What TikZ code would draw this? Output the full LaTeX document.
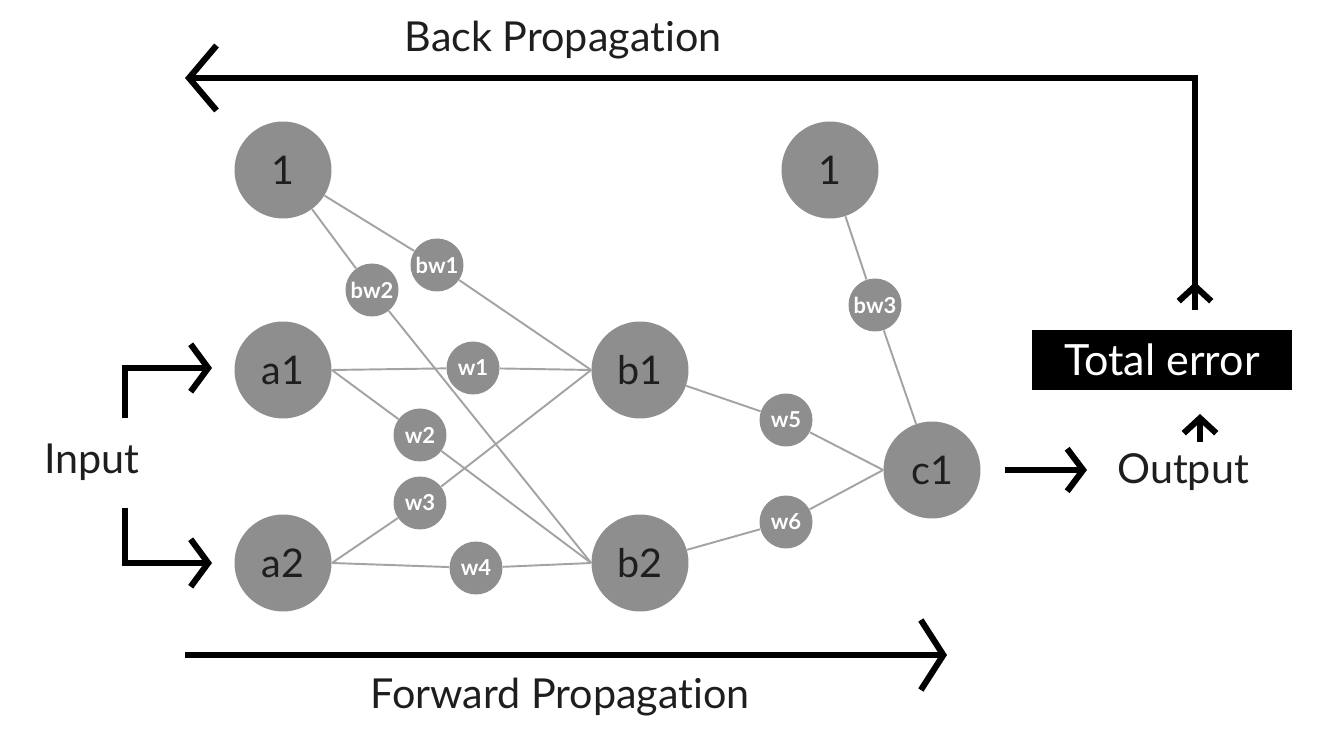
\documentclass[tikz,border=0pt]{standalone}
\usepackage{fontspec}
\setmainfont{Lato}[Ligatures=NoCommon]
\usetikzlibrary{arrows.meta,backgrounds}
\definecolor{nodegray}{HTML}{8E8E8E}
\definecolor{edgegray}{HTML}{A3A3A3}
\definecolor{textdark}{HTML}{1E1E1E}
\begin{document}
\begin{tikzpicture}[x=0.02cm,y=-0.02cm,
  neuron/.style={circle,fill=nodegray,minimum size=1.94cm,inner sep=0pt,font=\fontsize{22.5}{22.5}\selectfont,text=textdark},
  weight/.style={circle,fill=nodegray,minimum size=1.06cm,inner sep=0pt,font=\bfseries\fontsize{12.5}{12.5}\selectfont,text=white},
  edge/.style={draw=edgegray,line width=1.1pt},
  bigarrow/.style={line width=3.5pt,draw=black},
  lbl/.style={font=\fontsize{23.5}{23.5}\selectfont,text=textdark,inner sep=0pt}]
\useasboundingbox (0,0) rectangle (1340,732);
% neurons
\node[neuron] (bias1) at (283,170) {1};
\node[neuron] (a1) at (283,370) {a1};
\node[neuron] (a2) at (283,563) {a2};
\node[neuron] (b1) at (640,370) {b1};
\node[neuron] (b2) at (640,563) {b2};
\node[neuron] (bias2) at (830,170) {1};
\node[neuron] (c1) at (932,470) {c1};
% weights
\node[weight] (bw1) at (437,265) {bw1};
\node[weight] (bw2) at (372,290) {bw2};
\node[weight] (w1) at (473,368) {w1};
\node[weight] (w2) at (420,435) {w2};
\node[weight] (w3) at (420,503) {w3};
\node[weight] (w4) at (476,568) {w4};
\node[weight] (w5) at (786,420) {w5};
\node[weight] (w6) at (786,522) {w6};
\node[weight] (bw3) at (875,305) {bw3};
% edges
\begin{scope}[on background layer]
\draw[edge] (bias1) -- (bw1) -- (b1.west);
\draw[edge] (bias1) -- (bw2) -- (b2.west);
\draw[edge] (a1.east) -- (w1) -- (b1.west);
\draw[edge] (a1.east) -- (w2) -- (b2.west);
\draw[edge] (a2.east) -- (w3) -- (b1.west);
\draw[edge] (a2.east) -- (w4) -- (b2.west);
\draw[edge] (b1) -- (w5) -- (c1.west);
\draw[edge] (b2) -- (w6) -- (c1.west);
\draw[edge] (bias2) -- (bw3) -- (c1);
\end{scope}
% labels
\node[lbl] (bptext) at (563,40) {Back Propagation};
\node[lbl] (fptext) at (560,697) {Forward Propagation};
\node[lbl] (input) at (92,462) {Input};
\node[lbl] (output) at (1183,472) {Output};
\node[fill=black,text=white,minimum width=5.2cm,minimum height=1.2cm,inner sep=0pt,font=\fontsize{24.5}{24.5}\selectfont] (err) at (1162,360) {Total error};
% arrows
\coordinate (bpstart) at (1195,310);
\coordinate (bpturn) at (1195,78);
\coordinate (bpend) at (185,78);
\draw[bigarrow,-{Straight Barb[length=0.55cm,width=1.3cm]}] (bpstart) -- (bpturn) -- (bpend);
\coordinate (bpchev) at (1195,282);
\draw[bigarrow,-{Straight Barb[length=0.3cm,width=0.65cm]}] (bpstart) -- (bpchev);
\coordinate (fpstart) at (185,655);
\coordinate (fpend) at (947,655);
\draw[bigarrow,-{Straight Barb[length=0.45cm,width=1.4cm]}] (fpstart) -- (fpend);
\coordinate (outstart) at (1005,470);
\coordinate (outend) at (1087,470);
\draw[bigarrow,-{Straight Barb[length=0.32cm,width=0.85cm]}] (outstart) -- (outend);
\coordinate (errin) at (1200,442);
\coordinate (errtip) at (1200,414);
\draw[bigarrow,-{Straight Barb[length=0.3cm,width=0.65cm]}] (errin) -- (errtip);
\coordinate (in1a) at (125,418);
\coordinate (in1b) at (125,368);
\coordinate (in1c) at (212,368);
\draw[bigarrow,-{Straight Barb[length=0.35cm,width=0.95cm]}] (in1a) -- (in1b) -- (in1c);
\coordinate (in2a) at (125,508);
\coordinate (in2b) at (125,563);
\coordinate (in2c) at (212,563);
\draw[bigarrow,-{Straight Barb[length=0.35cm,width=0.95cm]}] (in2a) -- (in2b) -- (in2c);
\end{tikzpicture}
\end{document}
